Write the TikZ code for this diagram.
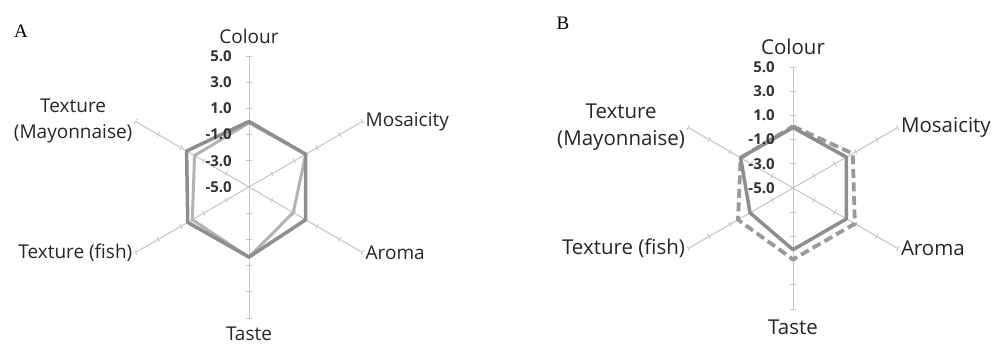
\documentclass[tikz,border=0pt]{standalone}
\usepackage{fontspec}
\setmainfont{Liberation Serif}
\newfontfamily\labelfont{Open Sans}
\usetikzlibrary{calc}
\definecolor{axisgrey}{HTML}{C4C4C4}
\definecolor{darkseries}{HTML}{8E8E8E}
\definecolor{lightseries}{HTML}{B3B3B3}
\definecolor{dashseries}{HTML}{9A9A9A}
\definecolor{ticktext}{HTML}{333333}
\tikzset{
  axisline/.style={draw=axisgrey, line width=1pt},
  tickmark/.style={draw=axisgrey, line width=0.8pt},
  catlabelA/.style={font=\labelfont\fontsize{19}{26}\selectfont, text=black!85, inner sep=0pt},
  catlabelB/.style={font=\labelfont\fontsize{20.5}{27}\selectfont, text=black!85, inner sep=0pt},
  ticklabel/.style={font=\labelfont\bfseries\fontsize{15}{17}\selectfont, text=ticktext, anchor=east, inner sep=0pt},
  panel/.style={font=\fontsize{19}{21}\selectfont, inner sep=0pt},
  seriesdark/.style={draw=darkseries, line width=3.5pt, line join=round},
  serieslight/.style={draw=lightseries, line width=3pt, line join=round},
  seriesdash/.style={draw=dashseries, line width=3.8pt, dash pattern=on 9pt off 4.5pt}
}
\begin{document}
\begin{tikzpicture}[x=1pt,y=1pt]
\useasboundingbox (0,0) rectangle (992,344);
\node[panel] (letA) at (21,313) {A};
\node[panel] (letB) at (563,321) {B};
% chart A
\begin{scope}[shift={(249,157)}, x=13.1pt, y=13.1pt]
  \foreach \ang [count=\i] in {90,30,-30,-90,210,150} {
    \draw[axisline] (0,0) -- (\ang:10) coordinate (a\i);
    \foreach \r in {2,4,...,10}
      \draw[tickmark] ($(\ang:\r)+(\ang+90:0.22)$) -- ($(\ang:\r)+(\ang-90:0.22)$);
  }
  \foreach \v [count=\i] in {-0.1,0,-1.1,0.35,0,-0.2}
    \coordinate (al\i) at ({90-60*(\i-1)}:{\v+5});
  \foreach \v [count=\i] in {0,0,0,0.35,0.4,0.5}
    \coordinate (ad\i) at ({90-60*(\i-1)}:{\v+5});
  \draw[serieslight] (al1) -- (al2) -- (al3) -- (al4) -- (al5) -- (al6) -- cycle;
  \draw[seriesdark] (ad1) -- (ad2) -- (ad3) -- (ad4) -- (ad5) -- (ad6) -- cycle;
  \foreach \r/\v in {0/-5.0,2/-3.0,4/-1.0,6/1.0,8/3.0,10/5.0}
    \node[ticklabel] (ta\r) at (-1.3,\r) {\v};
  \node[catlabelA, anchor=south] (colA) at ([yshift=12pt]a1) {Colour};
  \node[catlabelA, anchor=west] (mosA) at ([xshift=3pt]a2) {Mosaicity};
  \node[catlabelA, anchor=west] (aroA) at ([xshift=3pt]a3) {Aroma};
  \node[catlabelA, anchor=north] (tasA) at ([yshift=-9pt]a4) {Taste};
  \node[catlabelA, anchor=east] (fishA) at ([xshift=-3pt]a5) {Texture (fish)};
  \node[catlabelA, anchor=east, align=center] (mayoA) at ([xshift=-3pt]a6) {Texture\\(Mayonnaise)};
\end{scope}
% chart B
\begin{scope}[shift={(793,156)}, x=12.1pt, y=12.1pt]
  \foreach \ang [count=\i] in {90,30,-30,-90,210,150} {
    \draw[axisline] (0,0) -- (\ang:10) coordinate (b\i);
    \foreach \r in {2,4,...,10}
      \draw[tickmark] ($(\ang:\r)+(\ang+90:0.24)$) -- ($(\ang:\r)+(\ang-90:0.24)$);
  }
  \foreach \v [count=\i] in {0.1,0.7,0.9,0.9,0.25,0}
    \coordinate (bd\i) at ({90-60*(\i-1)}:{\v+5});
  \foreach \v [count=\i] in {0,0.1,0.1,0.1,-0.9,0}
    \coordinate (bs\i) at ({90-60*(\i-1)}:{\v+5});
  \draw[seriesdash] (bd1) -- (bd2) -- (bd3) -- (bd4) -- (bd5) -- (bd6) -- cycle;
  \draw[seriesdark] (bs1) -- (bs2) -- (bs3) -- (bs4) -- (bs5) -- (bs6) -- cycle;
  \foreach \r/\v in {0/-5.0,2/-3.0,4/-1.0,6/1.0,8/3.0,10/5.0}
    \node[ticklabel] (tb\r) at (-1.5,\r) {\v};
  \node[catlabelB, anchor=south] (colB) at ([yshift=12pt]b1) {Colour};
  \node[catlabelB, anchor=west] (mosB) at ([xshift=3pt]b2) {Mosaicity};
  \node[catlabelB, anchor=west] (aroB) at ([xshift=3pt]b3) {Aroma};
  \node[catlabelB, anchor=north] (tasB) at ([yshift=-11pt]b4) {Taste};
  \node[catlabelB, anchor=east] (fishB) at ([xshift=-3pt]b5) {Texture (fish)};
  \node[catlabelB, anchor=east, align=center] (mayoB) at ([xshift=-3pt]b6) {Texture\\(Mayonnaise)};
\end{scope}
\end{tikzpicture}
\end{document}
